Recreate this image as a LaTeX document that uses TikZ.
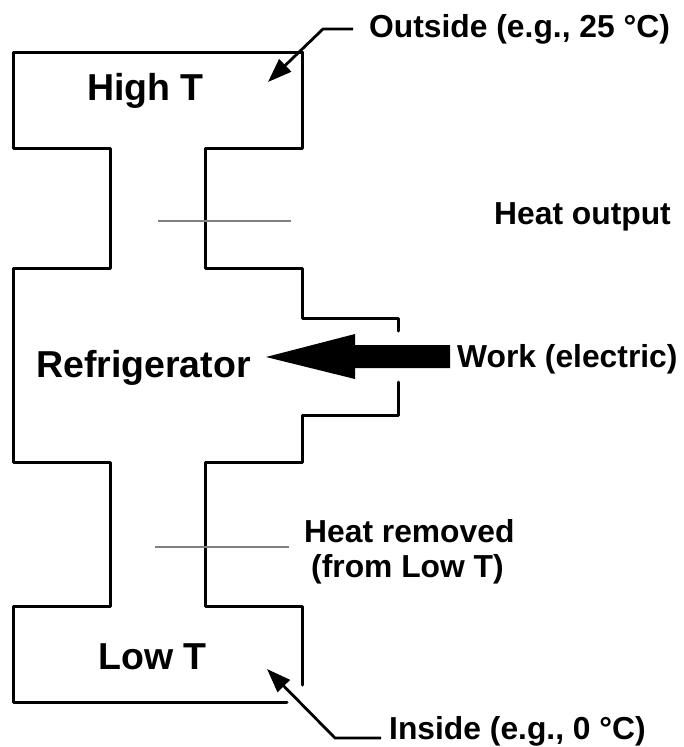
\documentclass[tikz,border=0pt]{standalone}
\usepackage{fontspec}
\setmainfont{Liberation Sans}
\usetikzlibrary{arrows.meta}
\begin{document}
\begin{tikzpicture}[x=1pt,y=-1pt,
  wall/.style={line width=3pt,line join=round,line cap=round},
  flow/.style={line width=2.6pt,draw={rgb,255:red,128;green,128;blue,128}},
  ptr/.style={line width=2.8pt,-{Triangle[length=24pt,width=17pt]}},
  big/.style={font=\bfseries\fontsize{37.5}{42}\selectfont,anchor=base west,inner sep=0pt},
  lbl/.style={font=\bfseries\fontsize{31.8}{36}\selectfont,anchor=base west,inner sep=0pt}]
\useasboundingbox (0,0) rectangle (683,747);
% walls
\draw[wall] (302,52) -- (13,52) -- (13,148) -- (110,148) -- (110,268) -- (13,268) -- (13,462) -- (110,462) -- (110,606) -- (13,606) -- (13,702) -- (287,702);
\draw[wall] (302,52) -- (302,148) -- (205,148) -- (205,268) -- (302,268) -- (302,318) -- (398,318) -- (398,331);
\draw[wall] (398,382) -- (398,415) -- (302,415) -- (302,462) -- (205,462) -- (205,606) -- (302,606) -- (302,685);
% heat flow lines
\draw[flow] (158,221) -- (291,221);
\draw[flow] (155,547) -- (289,547);
% big work arrow
\fill (450,345) -- (355,345) -- (355,334) -- (266,357) -- (355,379) -- (355,368) -- (450,368) -- cycle;
% labels
\node[big] (hi) at (87,100) {High T};
\node[big] (fr) at (36,377) {Refrigerator};
\node[big] (lo) at (98,669) {Low T};
\node[lbl] (out) at (369,37) {Outside (e.g., 25 °C)};
\node[lbl] (ho) at (494,224) {Heat output};
\node[lbl] (wk) at (457,367) {Work (electric)};
\node[lbl] (hr1) at (304,542) {Heat removed};
\node[lbl] (hr2) at (311,577) {(from Low T)};
\node[lbl] (in) at (389,739) {Inside (e.g., 0 °C)};
% pointer arrows
\coordinate (o1) at (353,29);
\coordinate (o2) at (323,29);
\coordinate (o3) at (268,82);
\coordinate (i1) at (381,738);
\coordinate (i2) at (335,738);
\coordinate (i3) at (267,669);
\draw[ptr] (o1) -- (o2) -- (o3);
\draw[ptr] (i1) -- (i2) -- (i3);
\end{tikzpicture}
\end{document}
